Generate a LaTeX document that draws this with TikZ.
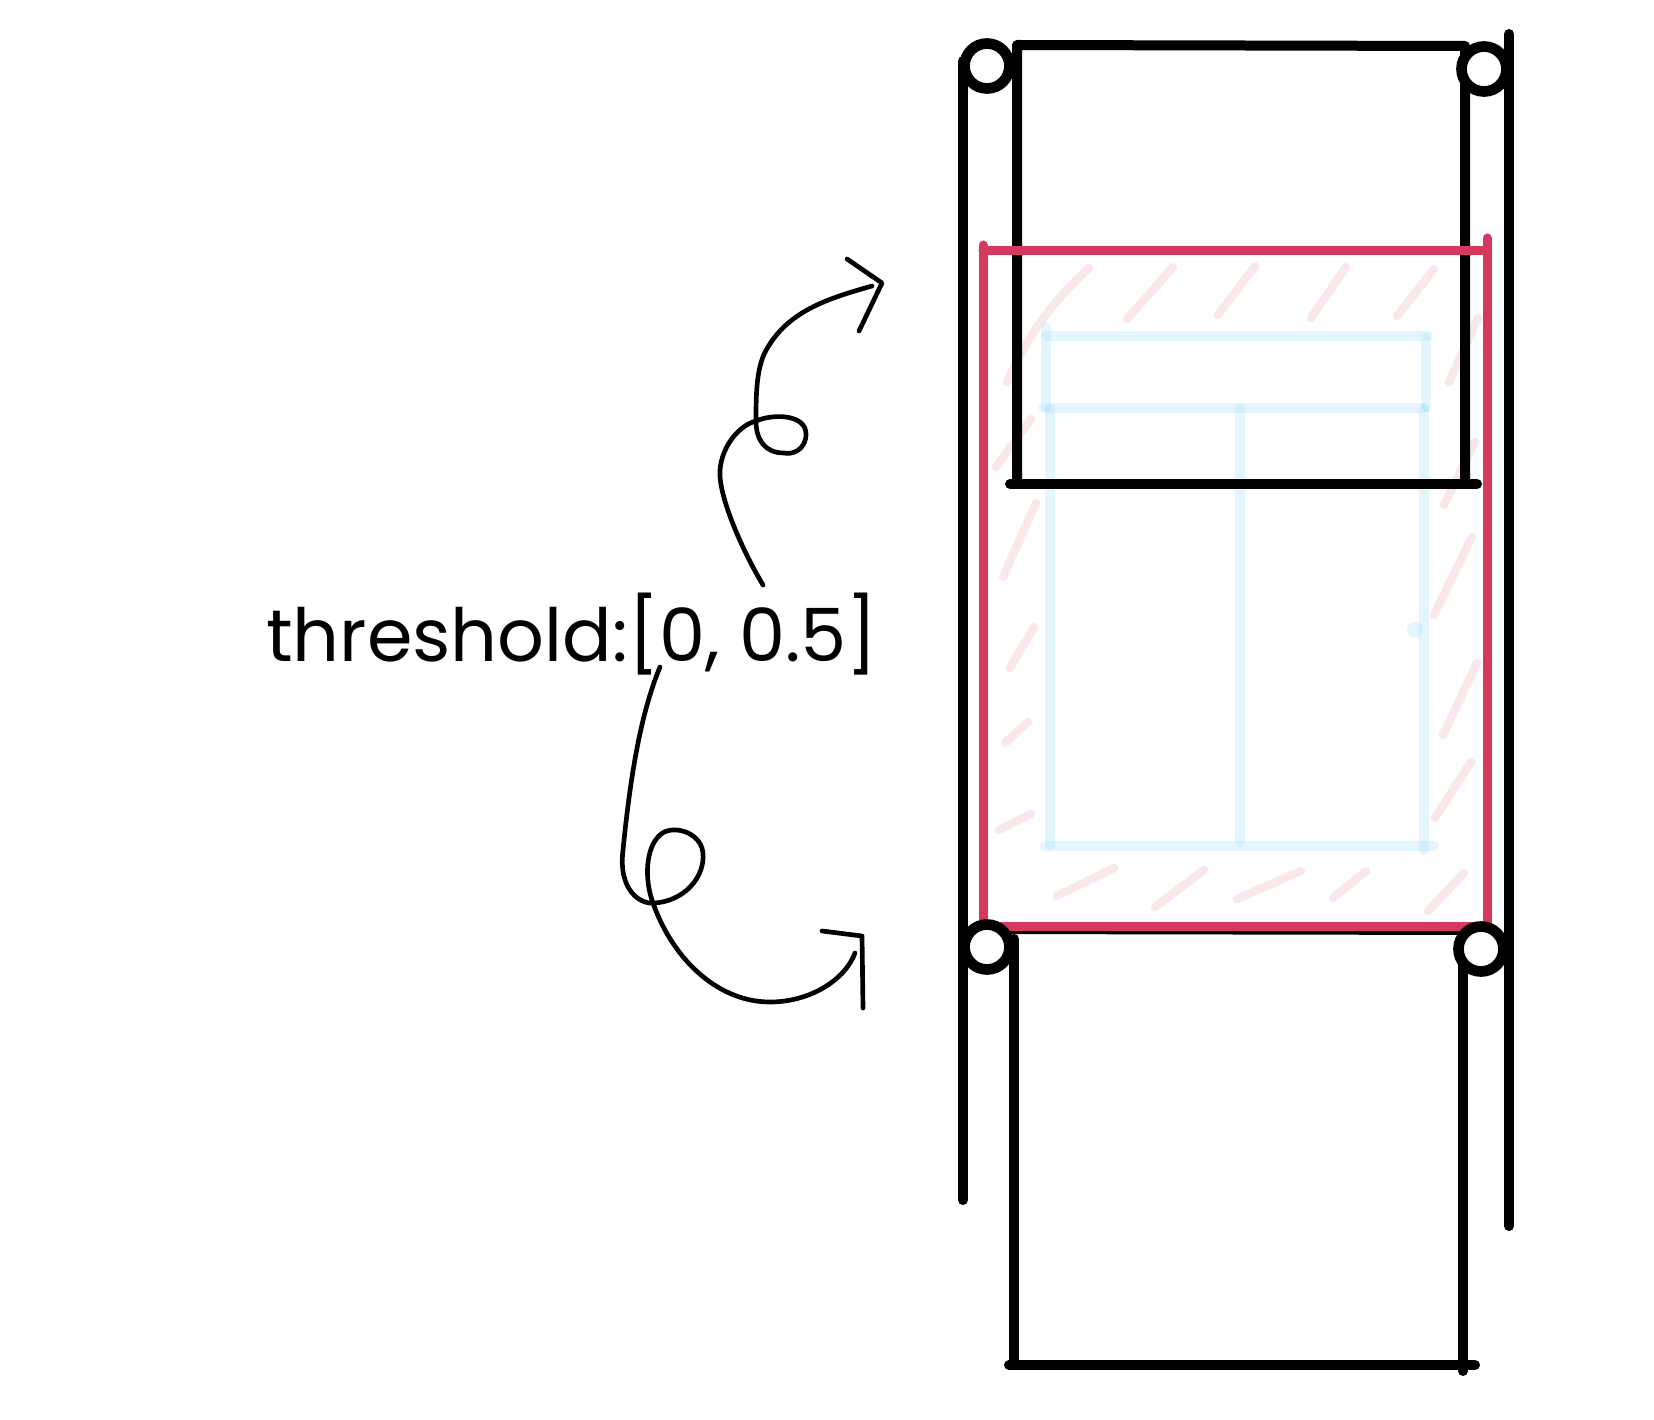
\documentclass[tikz,border=0pt]{standalone}
\usepackage{fontspec}
\setmainfont{Poppins}
\definecolor{crimson}{RGB}{214,57,93}
\definecolor{pinkhatch}{RGB}{250,231,232}
\definecolor{skyblue}{RGB}{125,207,245}
\tikzset{
  blk/.style={line width=3pt, line cap=round, line join=round},
  pin/.style={circle, draw, line width=3.2pt, fill=white, minimum size=13.5pt, inner sep=0pt},
  redln/.style={crimson, line width=2.7pt, line cap=round, line join=round},
  hatch/.style={pinkhatch, line width=2.5pt, line cap=round},
  gridln/.style={skyblue, draw opacity=0.2, line width=3pt, line cap=round},
  curl/.style={line width=1.4pt, line cap=round, line join=round}
}
\begin{document}
\begin{tikzpicture}[x=0.3pt,y=-0.3pt]
\useasboundingbox (0,0) rectangle (1654,1420);

% hatching round the window
\draw[hatch] (1007,382) .. controls (1030,330) and (1055,300) .. (1089,268);
\foreach \xa/\ya/\xb/\yb in {1127/319/1173/267, 1218/315/1255/266, 1311/318/1346/267,
  1397/316/1434/269, 1449/382/1478/318, 996/467/1031/419, 1444/505/1475/442,
  1003/577/1036/503, 1010/668/1034/627, 1005/743/1028/722, 999/830/1031/814,
  1434/615/1472/537, 1443/735/1477/663, 1435/818/1471/762, 1057/896/1114/868,
  1155/907/1204/870, 1237/899/1301/871, 1333/898/1366/871, 1428/911/1464/873}
  \draw[hatch] (\xa,\ya) -- (\xb,\yb);

% grid
\draw[gridln] (1046,336) -- (1428,336);
\draw[gridln] (1046,327) -- (1046,407);
\draw[gridln] (1426,338) -- (1426,407);
\draw[gridln] (1043,408) -- (1424,408);
\draw[gridln] (1050,409) -- (1050,845);
\draw[gridln] (1240,409) -- (1240,842);
\draw[gridln] (1424,409) -- (1424,850);
\draw[gridln] (1045,846) -- (1434,846);
\fill[skyblue, opacity=0.2] (1415,630) circle (2.4pt);

% frame
\draw[blk] (963,1200) -- (963,61);
\draw[blk] (1509,34) -- (1509,1226);
\draw[blk] (1017,484) -- (1017,45) -- (1465,46) -- (1465,484);
\draw[blk] (1010,484) -- (1477,484);
\draw[blk] (983,929) -- (1487,930);
\draw[blk] (1014,939) -- (1014,1365);
\draw[blk] (1463,939) -- (1463,1371);
\draw[blk] (1009,1365) -- (1475,1365);

\draw[redln] (983,245) -- (983,926) -- (1487,926) -- (1487,238);
\draw[redln] (983,251) -- (1487,251);

\node[pin] (pin-tl) at (987,66) {};
\node[pin] (pin-tr) at (1484,69) {};
\node[pin] (pin-bl) at (987,947) {};
\node[pin] (pin-br) at (1481,949) {};

\node (thr) at (572,634) {\fontsize{22}{26}\selectfont threshold:[0, 0.5]};

\coordinate (up-start) at (763,585);
\coordinate (up-tip) at (882,283);
\coordinate (low-start) at (660,667);
\coordinate (low-tip) at (862,936);

\draw[curl] (up-start) .. controls (742,550) and (718,495) .. (720,470)
  .. controls (722,445) and (740,425) .. (756,421)
  .. controls (775,413) and (806,415) .. (806,434)
  .. controls (806,450) and (792,455) .. (784,453)
  .. controls (765,453) and (756,440) .. (756,421)
  .. controls (756,395) and (756,365) .. (768,347)
  .. controls (790,310) and (830,298) .. (872,286);
\draw[curl] (847,259) -- (up-tip) -- (859,331);

\draw[curl] (low-start) .. controls (640,715) and (630,780) .. (623,850)
  .. controls (618,890) and (640,905) .. (655,903)
  .. controls (690,900) and (708,870) .. (702,848)
  .. controls (696,830) and (670,825) .. (660,835)
  .. controls (645,848) and (645,880) .. (652,900)
  .. controls (670,955) and (715,1002) .. (770,1002)
  .. controls (810,1002) and (845,980) .. (855,953);
\draw[curl] (822,931) -- (low-tip) -- (863,1008);

\end{tikzpicture}
\end{document}
